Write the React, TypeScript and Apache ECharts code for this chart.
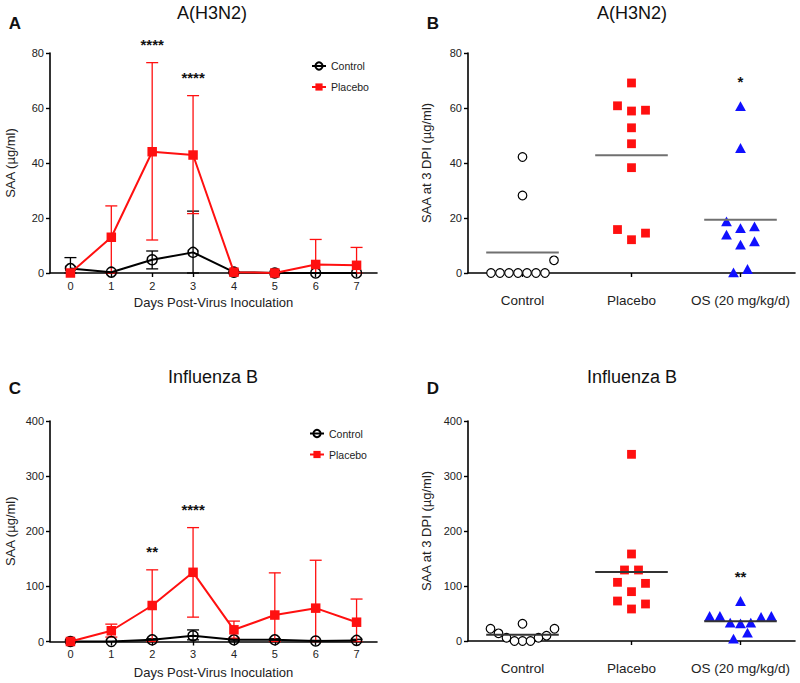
import React, { useEffect, useRef } from 'react';
import * as echarts from 'echarts';

const FONT = '"Liberation Sans", Arial, Helvetica, sans-serif';

// ---------- Panel A / C (time course) ----------
const days = ['0', '1', '2', '3', '4', '5', '6', '7'];

const aCtrlMean = [1.6, 0.3, 4.8, 7.5, 0.3, 0, 0, 0];
const aCtrlLo = [0, 0, 1.5, 0, 0, 0, 0, 0];
const aCtrlHi = [5.6, 0.3, 8.0, 22.5, 0.3, 0, 0, 0];
const aPlacMean = [0, 13, 44.1, 42.9, 0.3, 0, 3.1, 2.8];
const aPlacLo = [0, 0, 12, 21.6, 0, 0, 0, 0];
const aPlacHi = [0, 24.4, 76.5, 64.5, 0.3, 0, 12.2, 9.3];
const aStars = ['', '', '****', '****', '', '', '', ''];

const cCtrlMean = [0, 0, 3, 10.5, 3, 3, 1, 2];
const cCtrlLo = [0, 0, 1, 3, 1, 1, 0, 0];
const cCtrlHi = [0, 0, 5, 21, 5, 5, 2, 4];
const cPlacMean = [0, 19.5, 65.3, 125.5, 21.2, 48, 60.5, 35];
const cPlacLo = [0, 8, 0, 44.2, 6, 0, 0, 0];
const cPlacHi = [0, 31.5, 130, 206.6, 37, 124.5, 147.4, 77];
const cStars = ['', '', '**', '****', '', '', '', ''];

// ---------- Panel B / D (3 DPI scatter) ----------
const groups = ['Control', 'Placebo', 'OS (20 mg/kg/d)'];

const bControl = [0, 0, 0, 0, 0, 0, 0, 4.6, 28.2, 42.2];
const bPlacebo = [69.1, 60.8, 58.9, 59.2, 52.8, 47, 38.3, 15.8, 12.1, 14.5];
const bOS = [60.4, 45.2, 18.5, 16.1, 16.7, 13.7, 11.3, 10.1, 0, 1.2];
const bStars = ['', '', '*'];

const dControl = [22.4, 13.9, 6, 0, 31.5, 0, 0, 6, 9.7, 22.4];
const dPlacebo = [339.4, 158.2, 129.1, 129.1, 104.8, 106.7, 89.7, 72.7, 67.3, 58.2];
const dOS = [71.5, 44.2, 42.4, 32.1, 30.9, 32.1, 44.2, 44.2, 13.9, 3];
const dStars = ['', '', '**'];

const RED = '#ff1010';
const BLUE = '#1010ff';

const mean = (a: number[]) => a.reduce((s, v) => s + v, 0) / a.length;

function errorRender(color: string) {
  return (params: any, api: any) => {
    const x = api.value(0);
    const lo = api.value(1);
    const hi = api.value(2);
    if (hi - lo <= 0.0001) return { type: 'group', children: [] };
    const pHi = api.coord([x, hi]);
    const pLo = api.coord([x, lo]);
    const w = 6;
    const st = { stroke: color, lineWidth: 1.3 };
    return {
      type: 'group',
      children: [
        { type: 'line', shape: { x1: pHi[0], y1: pHi[1], x2: pLo[0], y2: pLo[1] }, style: st },
        { type: 'line', shape: { x1: pHi[0] - w, y1: pHi[1], x2: pHi[0] + w, y2: pHi[1] }, style: st },
        { type: 'line', shape: { x1: pLo[0] - w, y1: pLo[1], x2: pLo[0] + w, y2: pLo[1] }, style: st },
      ],
    };
  };
}

function starRender(labels: string[], lift: number) {
  return (params: any, api: any) => {
    const i = api.value(0);
    const p = api.coord([i, api.value(1)]);
    return {
      type: 'text',
      x: p[0],
      y: p[1] - lift,
      style: {
        text: labels[i],
        fill: '#111',
        font: `bold 15px ${FONT}`,
        textAlign: 'center',
        textVerticalAlign: 'middle',
        align: 'center',
        verticalAlign: 'middle',
      },
    };
  };
}

function swarmOffsets(vals: number[], api: any, cat: number): number[] {
  const ys = vals.map((v) => api.coord([cat, v])[1]);
  const order = vals.map((_, i) => i).sort((a, b) => vals[a] - vals[b] || a - b);
  const off = new Array(vals.length).fill(0);
  let k = 0;
  while (k < order.length) {
    const start = k;
    let end = k + 1;
    while (end < order.length && ys[order[start]] - ys[order[end]] <= 13.5) end++;
    const n = end - start;
    const step = Math.min(14, 72 / n);
    for (let j = 0; j < n; j++) {
      let slot: number;
      if (n % 2 === 1) {
        slot = j === 0 ? 0 : j % 2 === 1 ? (j + 1) / 2 : -j / 2;
      } else {
        const m = Math.floor(j / 2) + 0.5;
        slot = j % 2 === 0 ? -m : m;
      }
      off[order[start + j]] = slot * step;
    }
    k = end;
  }
  return off;
}

function swarmRender(groupVals: number[][]) {
  return (params: any, api: any) => {
    const g = api.value(0);
    const i = api.value(2);
    const vals = groupVals[g];
    const off = swarmOffsets(vals, api, g);
    const p = api.coord([g, vals[i]]);
    const cx = p[0] + off[i];
    const cy = p[1];
    if (g === 0) {
      return { type: 'circle', shape: { cx, cy, r: 4.3 }, style: { fill: '#fff', stroke: '#000', lineWidth: 1.2 } };
    }
    if (g === 1) {
      return { type: 'rect', shape: { x: cx - 4.4, y: cy - 4.4, width: 8.8, height: 8.8 }, style: { fill: RED } };
    }
    return {
      type: 'polygon',
      shape: { points: [[cx, cy - 5.6], [cx + 5.4, cy + 4.2], [cx - 5.4, cy + 4.2]] },
      style: { fill: BLUE },
    };
  };
}

function meanRender(color: string) {
  return (params: any, api: any) => {
    const p = api.coord([api.value(0), api.value(1)]);
    return {
      type: 'line',
      shape: { x1: p[0] - 36.3, y1: p[1], x2: p[0] + 36.3, y2: p[1] },
      style: { stroke: color, lineWidth: 2 },
    };
  };
}

const axisLine = { show: true, lineStyle: { color: '#000', width: 1.6 } };
const axisTick = { show: true, length: 4, lineStyle: { color: '#000', width: 1.4 } };

function yAxis(gridIndex: number, max: number, interval: number, name: string, gap: number) {
  return {
    type: 'value',
    gridIndex,
    min: 0,
    max,
    interval,
    name,
    nameLocation: 'middle',
    nameGap: gap,
    nameTextStyle: { fontSize: 13, color: '#222', fontFamily: FONT },
    axisLine,
    axisTick,
    axisLabel: { fontSize: 11, color: '#222', margin: 6, fontFamily: FONT },
    splitLine: { show: false },
  };
}

function dayAxis(gridIndex: number, gap: number) {
  return {
    type: 'category',
    gridIndex,
    data: days,
    boundaryGap: true,
    name: 'Days Post-Virus Inoculation',
    nameLocation: 'middle',
    nameGap: gap,
    nameTextStyle: { fontSize: 13, color: '#222', fontFamily: FONT },
    axisLine,
    axisTick: { ...axisTick, alignWithLabel: true, interval: 0 },
    axisLabel: { fontSize: 11, color: '#222', margin: 7, fontFamily: FONT, interval: 0 },
  };
}

function groupAxis(gridIndex: number) {
  return {
    type: 'category',
    gridIndex,
    data: groups,
    boundaryGap: true,
    axisLine,
    axisTick: { ...axisTick, alignWithLabel: true, interval: 0 },
    axisLabel: { fontSize: 13.5, color: '#222', margin: 20, fontFamily: FONT, interval: 0, hideOverlap: false },
  };
}

function timeSeries(
  idx: number,
  cm: number[], clo: number[], chi: number[],
  pm: number[], plo: number[], phi: number[],
  stars: string[],
) {
  const starData = stars
    .map((s, i) => (s ? [i, Math.max(phi[i], chi[i])] : null))
    .filter((d) => d !== null);
  return [
    {
      type: 'custom', name: 'ctrlErr' + idx, xAxisIndex: idx, yAxisIndex: idx, z: 2,
      renderItem: errorRender('#000'),
      encode: { x: 0, y: [1, 2] },
      data: cm.map((_, i) => [i, clo[i], chi[i]]),
    },
    {
      type: 'custom', name: 'placErr' + idx, xAxisIndex: idx, yAxisIndex: idx, z: 2,
      renderItem: errorRender(RED),
      encode: { x: 0, y: [1, 2] },
      data: pm.map((_, i) => [i, plo[i], phi[i]]),
    },
    {
      type: 'line', name: 'Control', xAxisIndex: idx, yAxisIndex: idx, z: 3,
      data: cm,
      symbol: 'circle', symbolSize: 10,
      lineStyle: { color: '#000', width: 2 },
      itemStyle: { color: 'rgba(255,255,255,0)', borderColor: '#000', borderWidth: 1.5 },
    },
    {
      type: 'line', name: 'Placebo', xAxisIndex: idx, yAxisIndex: idx, z: 4,
      data: pm,
      symbol: 'rect', symbolSize: 9.5,
      lineStyle: { color: RED, width: 2 },
      itemStyle: { color: RED },
    },
    {
      type: 'custom', name: 'stars' + idx, xAxisIndex: idx, yAxisIndex: idx, z: 5,
      renderItem: starRender(stars, 18),
      encode: { x: 0, y: 1 },
      data: starData,
    },
  ];
}

function scatterSeries(idx: number, ctrl: number[], plac: number[], os: number[], stars: string[], lineColor: string) {
  const gv = [ctrl, plac, os];
  const data: number[][] = [];
  gv.forEach((arr, g) => arr.forEach((v, i) => data.push([g, v, i])));
  const starData = stars
    .map((s, g) => (s ? [g, Math.max(...gv[g])] : null))
    .filter((d) => d !== null);
  return [
    {
      type: 'custom', name: 'pts' + idx, xAxisIndex: idx, yAxisIndex: idx, z: 2,
      renderItem: swarmRender(gv),
      encode: { x: 0, y: 1 },
      data,
    },
    {
      type: 'custom', name: 'mean' + idx, xAxisIndex: idx, yAxisIndex: idx, z: 3,
      renderItem: meanRender(lineColor),
      encode: { x: 0, y: 1 },
      data: gv.map((arr, g) => [g, mean(arr)]),
    },
    {
      type: 'custom', name: 'stars' + idx, xAxisIndex: idx, yAxisIndex: idx, z: 5,
      renderItem: starRender(stars, 25),
      encode: { x: 0, y: 1 },
      data: starData,
    },
  ];
}

function txt(text: string, x: number, y: number, font: string) {
  return {
    type: 'text',
    x,
    y,
    style: {
      text,
      fill: '#111',
      font,
      textAlign: 'center',
      textVerticalAlign: 'middle',
      align: 'center',
      verticalAlign: 'middle',
    },
  };
}

export default function App() {
  const ref = useRef<HTMLDivElement>(null);
  useEffect(() => {
    if (!ref.current) return;
    const chart = echarts.init(ref.current, undefined, { renderer: 'svg' });
    const legendBase = {
      orient: 'vertical',
      padding: 0,
      itemWidth: 14,
      itemHeight: 9,
      itemGap: 10,
      data: ['Control', 'Placebo'],
      textStyle: { fontSize: 10.5, color: '#222', fontFamily: FONT },
      selectedMode: false,
    };
    chart.setOption({
      animation: false,
      backgroundColor: '#fff',
      textStyle: { fontFamily: FONT },
      grid: [
        { left: 50, top: 53, width: 327, height: 220 },
        { left: 468, top: 53, width: 327, height: 220 },
        { left: 50, top: 421, width: 327, height: 220.5 },
        { left: 468, top: 421, width: 327, height: 220 },
      ],
      xAxis: [dayAxis(0, 23), groupAxis(1), dayAxis(2, 24), groupAxis(3)],
      yAxis: [
        yAxis(0, 80, 20, 'SAA (µg/ml)', 33),
        yAxis(1, 80, 20, 'SAA at 3 DPI (µg/ml)', 35),
        yAxis(2, 400, 100, 'SAA (µg/ml)', 33),
        yAxis(3, 400, 100, 'SAA at 3 DPI (µg/ml)', 35),
      ],
      legend: [
        { ...legendBase, left: 311, top: 60.5 },
        { ...legendBase, left: 309, top: 428 },
      ],
      graphic: [
        txt('A(H3N2)', 212, 13, `18px ${FONT}`),
        txt('A(H3N2)', 632, 13, `18px ${FONT}`),
        txt('Influenza B', 213, 377, `18px ${FONT}`),
        txt('Influenza B', 632, 377, `18px ${FONT}`),
        txt('A', 15, 23, `bold 17px ${FONT}`),
        txt('B', 433, 23, `bold 17px ${FONT}`),
        txt('C', 15, 388, `bold 17px ${FONT}`),
        txt('D', 433, 388, `bold 17px ${FONT}`),
      ],
      series: [
        ...timeSeries(0, aCtrlMean, aCtrlLo, aCtrlHi, aPlacMean, aPlacLo, aPlacHi, aStars),
        ...scatterSeries(1, bControl, bPlacebo, bOS, bStars, '#707070'),
        ...timeSeries(2, cCtrlMean, cCtrlLo, cCtrlHi, cPlacMean, cPlacLo, cPlacHi, cStars),
        ...scatterSeries(3, dControl, dPlacebo, dOS, dStars, '#333'),
      ],
    });
    return () => chart.dispose();
  }, []);
  return (
    <div
      ref={ref}
      style={{ position: 'fixed', left: 0, top: 0, width: 800, height: 683, background: '#fff' }}
    />
  );
}
